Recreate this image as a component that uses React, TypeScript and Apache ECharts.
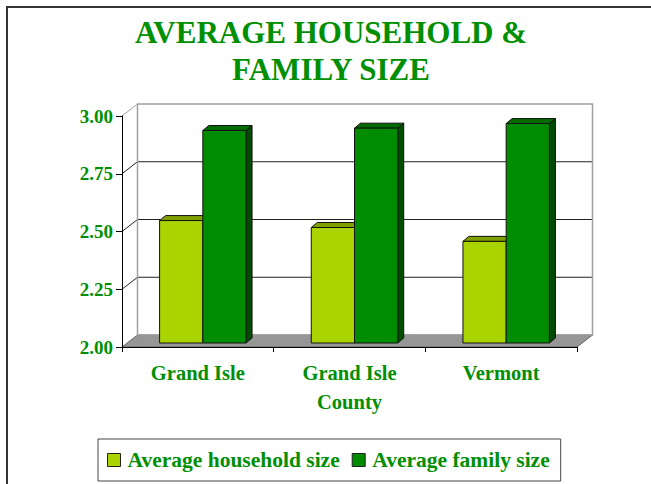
import React, { useEffect, useRef } from "react";
import * as echarts from "echarts";

const categories = ["Grand Isle", "Grand Isle\nCounty", "Vermont"];
const householdSize = [2.53, 2.5, 2.44];
const familySize = [2.92, 2.93, 2.95];
const yTicks = [2.0, 2.25, 2.5, 2.75, 3.0];
const seriesNames = ["Average household size", "Average family size"];
const titleText = "AVERAGE HOUSEHOLD &\nFAMILY SIZE";

const GREEN_TEXT = "#008F00";
const FONT = '"Liberation Serif", "Times New Roman", serif';
const LIGHT = { front: "#AAD400", top: "#80A000", side: "#6E8A00" };
const DARK = { front: "#008C00", top: "#006C00", side: "#004C00" };

// depth offsets (pixels)
const WALL_DX = 15.5;
const WALL_DY = -12;
const BAR_FX = 5;
const BAR_FY = -4;
const BAR_DX = 6;
const BAR_DY = -5;
const BAR_FRAC = 0.285;

function barRenderer(seriesIdx: number, colors: { front: string; top: string; side: string }) {
  return (params: any, api: any) => {
    const cat = api.value(0);
    const val = api.value(1);
    const base = api.coord([cat, yTicks[0]]);
    const top = api.coord([cat, val]);
    const cw = api.size([1, 0])[0];
    const bw = cw * BAR_FRAC;
    const x0 = base[0] + BAR_FX + (seriesIdx === 0 ? -bw : 0);
    const x1 = x0 + bw;
    const yb = base[1] + BAR_FY;
    const yt = top[1] + BAR_FY;
    const stroke = { stroke: "#111", lineWidth: 1 };
    return {
      type: "group",
      children: [
        {
          type: "polygon",
          shape: { points: [[x1, yt], [x1 + BAR_DX, yt + BAR_DY], [x1 + BAR_DX, yb + BAR_DY], [x1, yb]] },
          style: { fill: colors.side, ...stroke },
        },
        {
          type: "polygon",
          shape: { points: [[x0, yt], [x1, yt], [x1 + BAR_DX, yt + BAR_DY], [x0 + BAR_DX, yt + BAR_DY]] },
          style: { fill: colors.top, ...stroke },
        },
        {
          type: "rect",
          shape: { x: x0, y: yt, width: bw, height: yb - yt },
          style: { fill: colors.front, ...stroke },
        },
      ],
    };
  };
}

function wallRenderer(params: any, api: any) {
  const cs = params.coordSys;
  const x0 = cs.x;
  const x1 = cs.x + cs.width;
  const yT = cs.y;
  const yB = cs.y + cs.height;
  const children: any[] = [];
  children.push({
    type: "polygon",
    shape: { points: [[x0, yB], [x1, yB], [x1 + WALL_DX, yB + WALL_DY], [x0 + WALL_DX, yB + WALL_DY]] },
    style: { fill: "#969696", stroke: "#666", lineWidth: 1 },
  });
  yTicks.forEach((v, i) => {
    if (i === 0) return;
    const y = api.coord([0, v])[1];
    const isTop = i === yTicks.length - 1;
    const col = isTop ? "#A0A0A0" : "#222";
    if (!isTop) {
      children.push({
        type: "line",
        shape: { x1: x0 + WALL_DX, y1: y + WALL_DY, x2: x1 + WALL_DX, y2: y + WALL_DY },
        style: { stroke: col, lineWidth: 1 },
      });
    }
    children.push({
      type: "line",
      shape: { x1: x0, y1: y, x2: x0 + WALL_DX, y2: y + WALL_DY },
      style: { stroke: col, lineWidth: 1 },
    });
  });
  children.push({
    type: "rect",
    shape: { x: x0 + WALL_DX, y: yT + WALL_DY, width: cs.width, height: cs.height },
    style: { fill: "none", stroke: "#A0A0A0", lineWidth: 1.5 },
  });
  return { type: "group", children };
}

export default function App() {
  const ref = useRef<HTMLDivElement>(null);
  useEffect(() => {
    if (!ref.current) return;
    const chart = echarts.init(ref.current, undefined, { renderer: "svg" });
    const option: any = {
      animation: false,
      backgroundColor: "#fff",
      title: {
        text: titleText,
        left: 331,
        top: 14,
        textAlign: "center",
        padding: 0,
        textStyle: {
          color: GREEN_TEXT,
          fontFamily: FONT,
          fontWeight: "bold",
          fontSize: 31,
          lineHeight: 37,
        },
      },
      graphic: [
        {
          type: "rect",
          silent: true,
          shape: { x: 7, y: 7, width: 800, height: 800 },
          style: { fill: "none", stroke: "#333", lineWidth: 2 },
        },
      ],
      legend: {
        data: [
          { name: seriesNames[0], icon: "rect", itemStyle: { color: LIGHT.front, borderColor: "#222", borderWidth: 1 } },
          { name: seriesNames[1], icon: "rect", itemStyle: { color: DARK.front, borderColor: "#222", borderWidth: 1 } },
        ],
        left: 98,
        top: 439,
        padding: [10, 11, 10, 9],
        borderColor: "#444",
        borderWidth: 1,
        itemWidth: 13,
        itemHeight: 13,
        itemGap: 12,
        textStyle: {
          color: GREEN_TEXT,
          fontFamily: FONT,
          fontWeight: "bold",
          fontSize: 21.5,
          lineHeight: 21,
          padding: [0, 0, 0, 2],
        },
      },
      grid: { left: 122, top: 116, width: 455, height: 231 },
      xAxis: {
        type: "category",
        data: categories,
        z: 5,
        boundaryGap: true,
        axisLine: { lineStyle: { color: "#000", width: 1 } },
        axisTick: { show: true, length: 5, lineStyle: { color: "#000" } },
        axisLabel: {
          interval: 0,
          margin: 11,
          color: GREEN_TEXT,
          fontFamily: FONT,
          fontWeight: "bold",
          fontSize: 20.5,
          lineHeight: 29,
        },
      },
      yAxis: {
        type: "value",
        min: yTicks[0],
        max: yTicks[yTicks.length - 1],
        interval: 0.25,
        z: 5,
        axisLine: { show: true, lineStyle: { color: "#000", width: 1 } },
        axisTick: { show: true, length: 6, lineStyle: { color: "#000" } },
        splitLine: { show: false },
        axisLabel: {
          margin: 9,
          color: GREEN_TEXT,
          fontFamily: FONT,
          fontWeight: "bold",
          fontSize: 19,
          formatter: (v: number) => v.toFixed(2),
        },
      },
      series: [
        {
          type: "custom",
          name: "walls",
          silent: true,
          renderItem: wallRenderer,
          data: [[0, yTicks[0]]],
          z: 1,
        },
        {
          type: "custom",
          name: seriesNames[0],
          renderItem: barRenderer(0, LIGHT),
          itemStyle: { color: LIGHT.front },
          data: householdSize.map((v, i) => [i, v]),
          z: 2,
        },
        {
          type: "custom",
          name: seriesNames[1],
          renderItem: barRenderer(1, DARK),
          itemStyle: { color: DARK.front },
          data: familySize.map((v, i) => [i, v]),
          z: 3,
        },
      ],
    };
    chart.setOption(option);
    return () => chart.dispose();
  }, []);
  return (
    <div
      ref={ref}
      style={{ position: "fixed", left: 0, top: 0, width: 651, height: 484, background: "#fff" }}
    />
  );
}
